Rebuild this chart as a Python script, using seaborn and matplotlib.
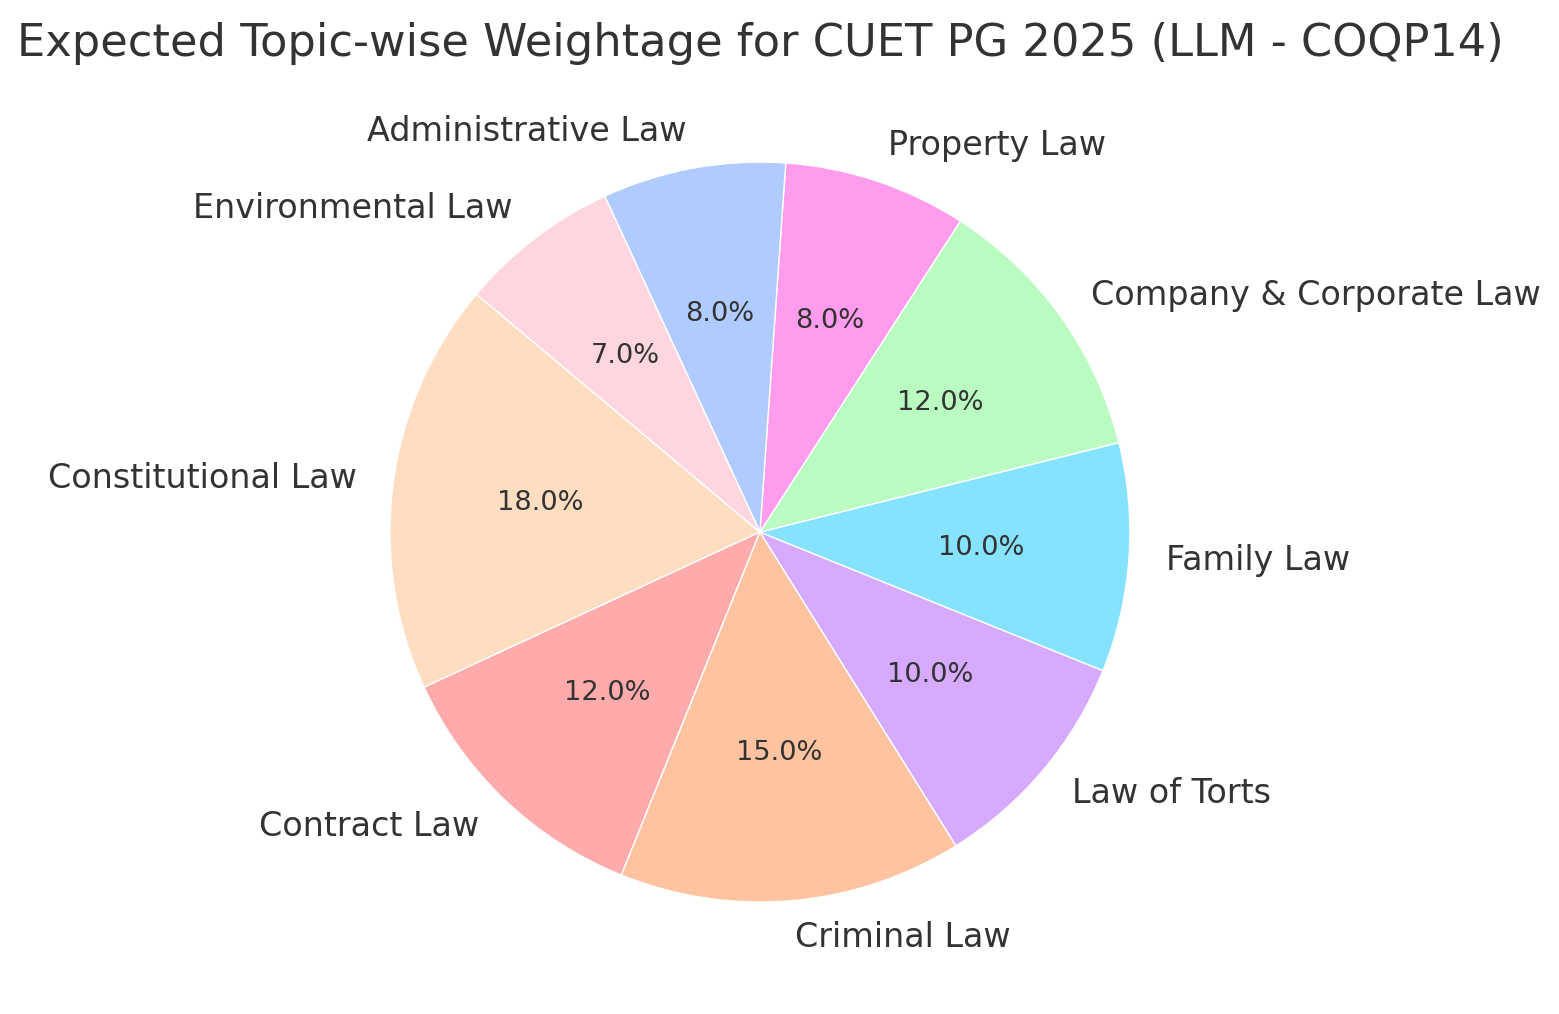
import matplotlib
matplotlib.use("Agg")
import matplotlib.pyplot as plt
import seaborn as sns

topics = ["Constitutional Law", "Contract Law", "Criminal Law", "Law of Torts",
          "Family Law", "Company & Corporate Law", "Property Law",
          "Administrative Law", "Environmental Law"]
weights = [18, 12, 15, 10, 10, 12, 8, 8, 7]
colors = ["#FFDDC1", "#FFABAB", "#FFC3A0", "#D5AAFF", "#85E3FF",
          "#B9FBC0", "#FF9CEE", "#AFCBFF", "#FFD5E0"]

sns.set_theme(style="white")
plt.rcParams.update({
    "font.family": ["DejaVu Sans"],
    "text.color": "#333333",
})

fig = plt.figure(figsize=(15.59, 10.14), dpi=100)
ax = fig.add_axes([0.1908, 0.0192, 0.5933, 0.9122])
wedges, texts, autotexts = ax.pie(weights, labels=topics, colors=colors,
                                  autopct="%1.1f%%", startangle=140,
                                  textprops={"fontsize": 24})
for t in autotexts:
    t.set_fontsize(19.6)
    t.set_color("#333333")
ax.set_title("Expected Topic-wise Weightage for CUET PG 2025 (LLM - COQP14)",
             fontsize=32.2, color="#333333", pad=10)
ax.set_xlim(-1.25, 1.25)
ax.set_ylim(-1.25, 1.25)

plt.savefig("out.png", dpi=100)
plt.close()
